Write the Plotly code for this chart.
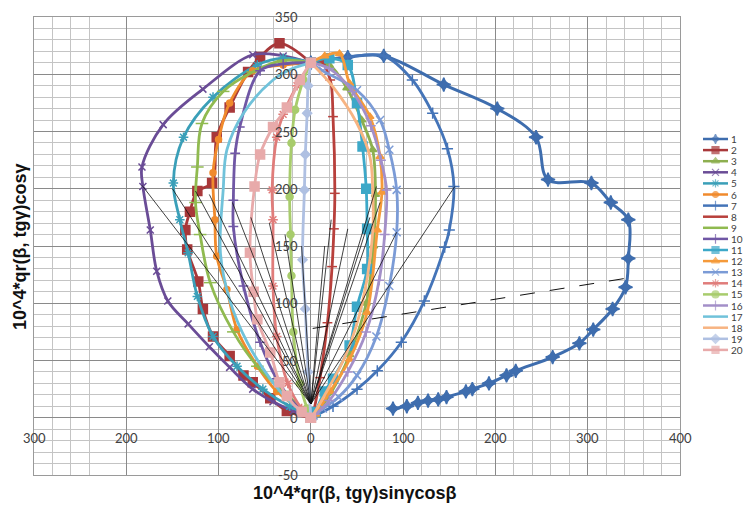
import plotly.graph_objects as go

# ---------------- data ----------------
SERIES_NAMES = [str(i) for i in range(1, 21)]

S1_X = [0, 40, 79, 144, 202, 244, 257, 304, 325, 344, 344, 341, 327, 306, 291, 262, 222, 212, 193, 175, 168, 147, 138, 127, 116, 104, 89]
S1_Y = [310, 315, 316, 291, 270, 245, 208, 205, 188, 173, 139, 114, 95, 77, 65, 53, 41, 37, 30, 25, 23, 18, 16, 15, 13, 10, 8]
S2_X = [0, -34, -55, -68, -88, -102, -107, -123, -131, -136, -134, -122, -117, -106, -88, -73, -63, -44, -26, 0]
S2_Y = [310, 327, 315, 302, 271, 245, 205, 198, 180, 164, 147, 119, 95, 71, 54, 37, 31, 17, 6, 0]
S3_X = [0, 20, 39, 55, 67, 70, 68, 60, 42, 22, 5]
S3_Y = [310, 308, 288, 260, 234, 195, 150, 100, 55, 22, 3]
S4_X = [0, -30, -63, -117, -160, -183, -182, -174, -167, -155, -133, -110, -88, -63, -41, -19, 0]
S4_Y = [310, 316, 317, 287, 256, 219, 202, 164, 128, 102, 82, 62, 44, 25, 14, 6, 1]
S5_X = [0, -30, -58, -106, -138, -149, -142, -133, -123, -106, -80, -52, -23, 0]
S5_Y = [310, 314, 308, 280, 245, 205, 173, 144, 106, 71, 45, 25, 10, 2]
S6_X = [0, -30, -63, -88, -100, -106, -104, -102, -91, -80, -58, -37, 0]
S6_Y = [310, 308, 303, 275, 243, 214, 173, 141, 112, 77, 45, 23, 2]
S7_X = [0, 40, 79, 110, 132, 148, 155, 150, 145, 123, 98, 72, 50, 24, 5]
S7_Y = [310, 315, 316, 295, 266, 235, 202, 164, 149, 102, 66, 41, 25, 10, 2]
S8_X = [0, 10, 21, 24, 26, 25, 23, 18, 10, 3]
S8_Y = [310, 312, 295, 263, 196, 165, 132, 83, 35, 5]
S9_X = [0, -30, -63, -95, -118, -123, -125, -120, -109, -84, -58, -30, 0]
S9_Y = [310, 312, 302, 285, 257, 219, 188, 160, 118, 75, 45, 23, 2]
S10_X = [0, -30, -55, -77, -82, -84, -84, -73, -55, -37, -15, 0]
S10_Y = [310, 309, 303, 254, 231, 190, 167, 115, 66, 34, 10, 2]
S11_X = [0, 20, 40, 50, 56, 60, 61, 61, 50, 42, 24, 15, 5]
S11_Y = [310, 314, 308, 275, 237, 200, 165, 130, 97, 63, 34, 23, 5]
S12_X = [0, 15, 31, 42, 64, 75, 77, 72, 61, 42, 21, 5]
S12_Y = [310, 316, 318, 292, 263, 228, 197, 164, 92, 51, 23, 3]
S13_X = [0, 13, 50, 75, 85, 93, 93, 85, 71, 50, 30, 13, 3]
S13_Y = [310, 303, 286, 260, 234, 199, 162, 115, 71, 37, 18, 8, 2]
S14_X = [0, -15, -30, -37, -42, -41, -41, -37, -25, -10, 0]
S14_Y = [310, 290, 265, 245, 199, 173, 115, 71, 30, 8, 0]
S15_X = [0, -8, -17, -21, -23, -22, -21, -19, -12, -4, 0]
S15_Y = [310, 295, 269, 240, 193, 160, 124, 75, 30, 8, 0]
S16_X = [0, 20, 45, 65, 76, 82, 80, 74, 60, 40, 20, 5]
S16_Y = [310, 305, 285, 255, 225, 199, 160, 120, 75, 40, 15, 3]
S17_X = [0, -20, -41, -73, -91, -95, -98, -88, -69, -44, -20, 0]
S17_Y = [310, 305, 295, 266, 234, 199, 144, 103, 66, 34, 12, 2]
S18_X = [0, 24, 50, 64, 67, 67, 56, 39, 13, 3]
S18_Y = [310, 289, 257, 228, 199, 162, 101, 57, 17, 3]
S19_X = [0, -3, -4, -6, -7, -9, -6, -3, 0]
S19_Y = [310, 290, 266, 230, 199, 138, 95, 40, 0]
S20_X = [0, -12, -26, -41, -55, -61, -66, -62, -58, -44, -34, -26, -10, 0]
S20_Y = [310, 295, 271, 254, 230, 202, 144, 110, 86, 57, 31, 19, 5, 0]

# thin black rays from a common centre
RAY_CENTER_X = 0
RAY_CENTER_Y = 12
RAY_END_X = [-183, -150, -125, -110, -85, -65, -45, -28, -10, 15, 22, 40, 64, 71, 75, 93, 156]
RAY_END_Y = [203, 200, 198, 195, 188, 175, 170, 160, 150, 150, 173, 165, 175, 202, 188, 162, 202]
CHORD_X = [2, 343]
CHORD_Y = [78, 122]

X_TICKS = [-300, -200, -100, 0, 100, 200, 300, 400]
X_TICK_TEXT = ["300", "200", "100", "0", "100", "200", "300", "400"]
Y_TICKS = [-50, 0, 50, 100, 150, 200, 250, 300, 350]
Y_TICK_TEXT = ["-50", "0", "50", "100", "150", "200", "250", "300", "350"]
X_MINOR = [-280, -260, -240, -60, -40, -20, 20, 40, 60, 80, 120, 140, 160, 180,
           220, 240, 260, 280, 320, 340, 360, 380]

X_TITLE = "10^4*qr(β, tgγ)sinγcosβ"
Y_TITLE = "10^4*qr(β, tgγ)cosγ"

SERIES_X = [S1_X, S2_X, S3_X, S4_X, S5_X, S6_X, S7_X, S8_X, S9_X, S10_X,
            S11_X, S12_X, S13_X, S14_X, S15_X, S16_X, S17_X, S18_X, S19_X, S20_X]
SERIES_Y = [S1_Y, S2_Y, S3_Y, S4_Y, S5_Y, S6_Y, S7_Y, S8_Y, S9_Y, S10_Y,
            S11_Y, S12_Y, S13_Y, S14_Y, S15_Y, S16_Y, S17_Y, S18_Y, S19_Y, S20_Y]

# ---------------- styles ----------------
COLORS = ["#3E6DAE", "#A8383A", "#8DAF4F", "#6A4C96", "#3A9FB8", "#F08A2C", "#4474B8",
          "#B8403C", "#90BA50", "#7057A5", "#3CA8C8", "#F59A3A", "#7B9BD6", "#E07C7A",
          "#A8CC6C", "#A38FC8", "#70C2DA", "#F7B482", "#AFC0E2", "#E8AAAA"]
SYMBOLS = ["star-diamond", "square", "triangle-up", "x-thin-open", "asterisk-open", "circle",
           "cross-thin-open", "line-ew-open", "line-ew-open", "cross-thin-open", "square",
           "triangle-up", "x-thin-open", "asterisk-open", "circle", "cross-thin-open",
           "circle", "circle", "diamond", "square"]
MSIZES = [10, 9, 7, 7, 8, 6, 8, 7, 9, 7, 9, 7, 8, 8, 7, 7, 0, 0, 7, 9]
LWIDTH = [3, 2.8, 2.8, 2.8, 2.8, 2.8, 2.8, 2.8, 2.8, 2.8, 2.8, 2.8, 2.8, 2.8, 2.8, 2.8, 2.8, 2.8, 2.8, 2.8]

# page offset: the html body has an 8px margin
fig = go.Figure()

for i, name in enumerate(SERIES_NAMES):
    fig.add_trace(go.Scatter(
        x=SERIES_X[i], y=SERIES_Y[i], name=name,
        mode="lines+markers" if MSIZES[i] > 0 else "lines",
        line=dict(color=COLORS[i], width=LWIDTH[i], shape="spline", smoothing=1.0),
        marker=dict(symbol=SYMBOLS[i], size=MSIZES[i], color=COLORS[i],
                    line=dict(color=COLORS[i], width=1.5)),
        showlegend=False, hoverinfo="skip"))

# rays
rx, ry = [], []
for ex, ey in zip(RAY_END_X, RAY_END_Y):
    rx += [RAY_CENTER_X, ex, None]
    ry += [RAY_CENTER_Y, ey, None]
fig.add_trace(go.Scatter(x=rx, y=ry, mode="lines",
                         line=dict(color="#111111", width=0.8),
                         showlegend=False, hoverinfo="skip"))
fig.add_trace(go.Scatter(x=CHORD_X, y=CHORD_Y, mode="lines",
                         line=dict(color="#111111", width=1, dash="longdash"),
                         showlegend=False, hoverinfo="skip"))

# manual legend on a side axis (x and y in page pixel units)
LEG_Y0, LEG_STEP = 139, 11.1
for i, name in enumerate(SERIES_NAMES):
    yy = LEG_Y0 + LEG_STEP * i
    ms = min(MSIZES[i], 7)
    fig.add_trace(go.Scatter(
        x=[3, 15.5, 28], y=[yy, yy, yy], mode="lines+markers", xaxis="x2", yaxis="y2",
        line=dict(color=COLORS[i], width=2.5),
        marker=dict(symbol=SYMBOLS[i], size=[0, ms, 0], color=COLORS[i],
                    line=dict(color=COLORS[i], width=1.2)),
        showlegend=False, hoverinfo="skip"))
    fig.add_annotation(x=29, y=yy, xref="x2", yref="y2", text=name, showarrow=False,
                       xanchor="left", yanchor="middle",
                       font=dict(family="Lato, Liberation Sans, sans-serif", size=10, color="#404040"))

TICK_FONT = dict(family="Lato, Liberation Sans, sans-serif", size=13, color="#404040")
for v, t in zip(X_TICKS, X_TICK_TEXT):
    fig.add_annotation(x=v, y=0, xref="x", yref="y", text=t, showarrow=False,
                       yshift=-20, xanchor="center", yanchor="middle", font=TICK_FONT)
for v, t in zip(Y_TICKS, Y_TICK_TEXT):
    fig.add_annotation(x=0, y=v, xref="x", yref="y", text=t, showarrow=False,
                       xshift=-11, xanchor="right", yanchor="middle", font=TICK_FONT)

# plot area: page x 34..680, y 17..475 ; figure is offset by 8px
W, H = 745, 501
ML, MT = 26, 9
PW = W - ML
TITLE_FONT = dict(family="Liberation Sans, Arial, sans-serif", size=18, color="#111111")
fig.add_annotation(x=(355 - 34) / PW, y=(475 - 493) / 458, xref="paper", yref="paper",
                   text="<b>%s</b>" % X_TITLE, showarrow=False,
                   xanchor="center", yanchor="middle", font=TITLE_FONT)
fig.add_annotation(x=(20 - 34) / PW, y=(475 - 247) / 458, xref="paper", yref="paper",
                   text="<b>%s</b>" % Y_TITLE, showarrow=False,
                   xanchor="center", yanchor="middle", textangle=-90, font=TITLE_FONT)

fig.update_layout(
    width=W, height=H,
    margin=dict(l=ML, r=0, t=MT, b=H - 467, pad=0),
    paper_bgcolor="white", plot_bgcolor="white",
    xaxis=dict(domain=[0, 646 / PW], range=[-300, 400], showticklabels=False, ticks="",
               tickmode="linear", tick0=0, dtick=100,
               showgrid=True, gridcolor="#8a8a8a", gridwidth=1,
               minor=dict(tickmode="array", tickvals=X_MINOR, showgrid=True,
                          gridcolor="#c4c4c4", gridwidth=1),
               zeroline=True, zerolinecolor="#8a8a8a", zerolinewidth=1,
               showline=True, mirror=True, linecolor="#9a9a9a", linewidth=1),
    yaxis=dict(range=[-50, 350], showticklabels=False, ticks="",
               tickmode="linear", tick0=0, dtick=50,
               showgrid=True, gridcolor="#8a8a8a", gridwidth=1,
               minor=dict(dtick=10, showgrid=True, gridcolor="#c4c4c4", gridwidth=1),
               zeroline=True, zerolinecolor="#8a8a8a", zerolinewidth=1,
               showline=True, mirror=True, linecolor="#9a9a9a", linewidth=1),
    xaxis2=dict(domain=[(700 - 34) / PW, (748 - 34) / PW], range=[0, 48], visible=False, anchor="y2"),
    yaxis2=dict(domain=[0, 1], range=[475, 17], visible=False, anchor="x2"),
)

fig.write_html("out.html")
